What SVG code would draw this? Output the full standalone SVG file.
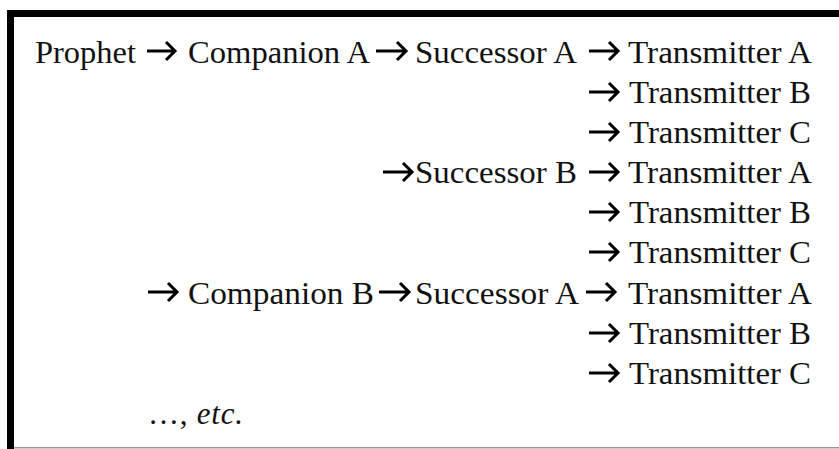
<svg xmlns="http://www.w3.org/2000/svg" width="839" height="449" viewBox="0 0 839 449">
<style>
.t{font-family:"Liberation Serif","Times New Roman",serif;font-size:31px;fill:#111;}
.i{font-style:italic;}
.a{fill:none;stroke:#000;stroke-width:3;stroke-linejoin:miter;}
</style>
<rect width="839" height="449" fill="#fff"/>
<g id="frame">
<rect x="7" y="10" width="832" height="7" fill="#000"/>
<rect x="7" y="10" width="7" height="439" fill="#000"/>
<rect x="14" y="447" width="825" height="1.5" fill="#9a9a9a"/>
</g>
<g id="connectors">
<path class="a" d="M147 51H175M166 42L175 51L166 60"/>
<path class="a" d="M376 51H406M397 42L406 51L397 60"/>
<path class="a" d="M589 51H618M609 42L618 51L609 60"/>
<path class="a" d="M589 92H618M609 83L618 92L609 101"/>
<path class="a" d="M589 132H618M609 123L618 132L609 141"/>
<path class="a" d="M383 172H412M403 163L412 172L403 181"/>
<path class="a" d="M589 172H618M609 163L618 172L609 181"/>
<path class="a" d="M589 212H618M609 203L618 212L609 221"/>
<path class="a" d="M589 252H618M609 243L618 252L609 261"/>
<path class="a" d="M148 292H177M168 283L177 292L168 301"/>
<path class="a" d="M379 292H409M400 283L409 292L400 301"/>
<path class="a" d="M586 292H615M606 283L615 292L606 301"/>
<path class="a" d="M589 333H618M609 324L618 333L609 342"/>
<path class="a" d="M589 373H618M609 364L618 373L609 382"/>
</g>
<g id="prophet"><text class="t" x="35" y="63" textLength="101" lengthAdjust="spacingAndGlyphs">Prophet</text></g>
<g id="companion-a"><text class="t" x="188" y="63" textLength="182" lengthAdjust="spacingAndGlyphs">Companion A</text></g>
<g id="a-successor-a"><text class="t" x="415" y="63" textLength="162" lengthAdjust="spacingAndGlyphs">Successor A</text></g>
<g id="aa-transmitter-a"><text class="t" x="628" y="63" textLength="184" lengthAdjust="spacingAndGlyphs">Transmitter A</text></g>
<g id="aa-transmitter-b"><text class="t" x="629" y="103" textLength="182" lengthAdjust="spacingAndGlyphs">Transmitter B</text></g>
<g id="aa-transmitter-c"><text class="t" x="629" y="143" textLength="182" lengthAdjust="spacingAndGlyphs">Transmitter C</text></g>
<g id="a-successor-b"><text class="t" x="415" y="183" textLength="162" lengthAdjust="spacingAndGlyphs">Successor B</text></g>
<g id="ab-transmitter-a"><text class="t" x="628" y="183" textLength="184" lengthAdjust="spacingAndGlyphs">Transmitter A</text></g>
<g id="ab-transmitter-b"><text class="t" x="629" y="223" textLength="182" lengthAdjust="spacingAndGlyphs">Transmitter B</text></g>
<g id="ab-transmitter-c"><text class="t" x="629" y="263" textLength="182" lengthAdjust="spacingAndGlyphs">Transmitter C</text></g>
<g id="companion-b"><text class="t" x="188" y="304" textLength="186" lengthAdjust="spacingAndGlyphs">Companion B</text></g>
<g id="b-successor-a"><text class="t" x="415" y="304" textLength="164" lengthAdjust="spacingAndGlyphs">Successor A</text></g>
<g id="ba-transmitter-a"><text class="t" x="628" y="304" textLength="184" lengthAdjust="spacingAndGlyphs">Transmitter A</text></g>
<g id="ba-transmitter-b"><text class="t" x="629" y="344" textLength="182" lengthAdjust="spacingAndGlyphs">Transmitter B</text></g>
<g id="ba-transmitter-c"><text class="t" x="629" y="384" textLength="182" lengthAdjust="spacingAndGlyphs">Transmitter C</text></g>
<g id="etc"><text class="t" x="148" y="424" textLength="95" lengthAdjust="spacing">…, <tspan class="i">etc.</tspan></text></g>
</svg>
